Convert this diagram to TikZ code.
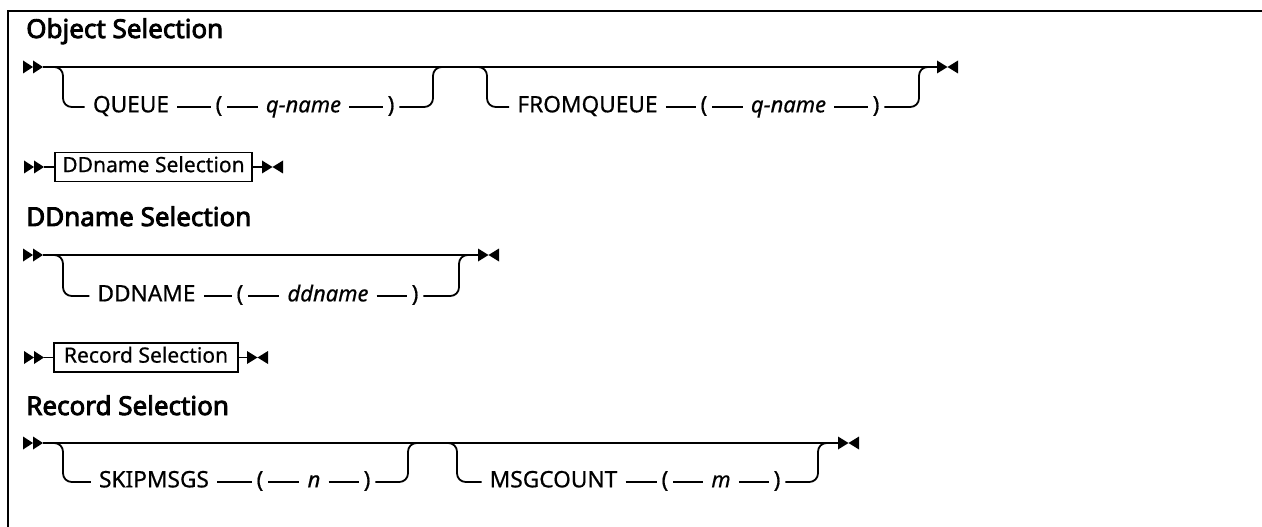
\documentclass[tikz,border=0pt]{standalone}
\usepackage{fontspec}
\setmainfont{Noto Sans}
\newfontfamily\tokfont{Noto Sans}[FakeBold=0.6]
\newfontfamily\ttlfont{Noto Sans}[FakeBold=3.2]
\begin{document}
\begin{tikzpicture}[x=0.75pt,y=-0.75pt,
  rail/.style={line width=1.35pt},
  frameline/.style={line width=1.6pt},
  tok/.style={inner xsep=6pt, inner ysep=0pt, text height=11.5pt, text depth=3.5pt, font=\tokfont\fontsize{17}{20}\selectfont},
  var/.style={tok, font=\tokfont\fontsize{16.5}{20}\selectfont\itshape},
  par/.style={tok, inner xsep=3.5pt},
  title/.style={anchor=base west, inner sep=0pt, font=\ttlfont\fontsize{19.5}{23}\selectfont},
  refbox/.style={draw, line width=1.1pt, inner xsep=4pt, inner ysep=0pt, minimum height=21.75pt, text height=11.2pt, text depth=3.5pt, font=\tokfont\fontsize{15.8}{19}\selectfont},
  startmark/.pic={\fill (-20,-6.5) -- (-10,0) -- (-20,6.5) -- cycle (-10,-6.5) -- (0,0) -- (-10,6.5) -- cycle;},
  endmark/.pic={\fill (0,-6.5) -- (10.5,0) -- (0,6.5) -- cycle (21,-6.5) -- (10.5,0) -- (21,6.5) -- cycle;}
]
\useasboundingbox (0,0) rectangle (1262,527);
% frame
\draw[frameline] (8,527) -- (8,11) -- (1262,11);

% ---------- Object Selection ----------
\node[title] (t1) at (26,38) {Object Selection};
\coordinate (s1) at (43,67);
\coordinate (e1) at (937,67);
\pic at (s1) {startmark};
\pic at (e1) {endmark};
\draw[rail] (s1) -- (e1);
% branch QUEUE
\node[tok] (queue) at (131,107) {QUEUE};
\node[par] (lp1) at (219,107) {(};
\node[var] (qn1) at (303.5,107) {q-name};
\node[par] (rp1) at (391,107) {)};
\coordinate (v1l) at (63,107);
\coordinate (v1r) at (433,67);
\coordinate (j1) at (445,67);
\draw[rail, rounded corners=6.5pt] (s1) -| (v1l) -- (queue);
\draw[rail] (queue) -- (lp1) (lp1) -- (qn1) (qn1) -- (rp1);
\draw[rail, rounded corners=6.5pt] (rp1) -| (v1r) -- (j1);
% branch FROMQUEUE
\coordinate (d2) at (470,67);
\coordinate (v2l) at (487,107);
\node[tok] (fromq) at (587.5,107) {FROMQUEUE};
\node[par] (lp2) at (704,107) {(};
\node[var] (qn2) at (788.5,107) {q-name};
\node[par] (rp2) at (876,107) {)};
\coordinate (v2r) at (919,67);
\coordinate (j2) at (930,67);
\draw[rail, rounded corners=6.5pt] (d2) -| (v2l) -- (fromq);
\draw[rail] (fromq) -- (lp2) (lp2) -- (qn2) (qn2) -- (rp2);
\draw[rail, rounded corners=6.5pt] (rp2) -| (v2r) -- (j2);

% ---------- DDname Selection reference ----------
\coordinate (s2) at (44,167);
\pic at (s2) {startmark};
\node[refbox, minimum width=147.75pt] (ddbox) at (153.5,167) {DDname Selection};
\coordinate (e2) at (262,167);
\pic at (e2) {endmark};
\draw[rail] (s2) -- (ddbox);
\draw[rail] (ddbox) -- (e2);

% ---------- DDname Selection ----------
\node[title] (t3) at (26,226) {DDname Selection};
\coordinate (s3) at (43,255);
\coordinate (e3) at (478,255);
\pic at (s3) {startmark};
\pic at (e3) {endmark};
\draw[rail] (s3) -- (e3);
\node[tok] (ddn) at (146.5,296) {DDNAME};
\node[par] (lp3) at (240,296) {(};
\node[var] (dvar) at (328,296) {ddname};
\node[par] (rp3) at (415,296) {)};
\coordinate (v3l) at (63,296);
\coordinate (v3r) at (459,255);
\draw[rail, rounded corners=6.5pt] (s3) -| (v3l) -- (ddn);
\draw[rail] (ddn) -- (lp3) (lp3) -- (dvar) (dvar) -- (rp3);
\draw[rail, rounded corners=6.5pt] (rp3) -| (v3r) -- (e3);

% ---------- Record Selection reference ----------
\coordinate (s4) at (44,357.5);
\pic at (s4) {startmark};
\node[refbox, minimum width=138pt] (rsbox) at (146,357.5) {Record Selection};
\coordinate (e4) at (247,357.5);
\pic at (e4) {endmark};
\draw[rail] (s4) -- (rsbox);
\draw[rail] (rsbox) -- (e4);

% ---------- Record Selection ----------
\node[title] (t5) at (26,415) {Record Selection};
\coordinate (s5) at (43,443);
\coordinate (e5) at (838,443);
\pic at (s5) {startmark};
\pic at (e5) {endmark};
\draw[rail] (s5) -- (e5);
% branch SKIPMSGS
\node[tok] (skip) at (154,482) {SKIPMSGS};
\node[par] (lp5) at (260,482) {(};
\node[var] (nvar) at (314,482) {n};
\node[par] (rp5) at (367,482) {)};
\coordinate (v5l) at (63,482);
\coordinate (v5r) at (408,443);
\coordinate (j5) at (420,443);
\draw[rail, rounded corners=6.5pt] (s5) -| (v5l) -- (skip);
\draw[rail] (skip) -- (lp5) (lp5) -- (nvar) (nvar) -- (rp5);
\draw[rail, rounded corners=6.5pt] (rp5) -| (v5r) -- (j5);
% branch MSGCOUNT
\coordinate (d6) at (440,443);
\coordinate (v6l) at (457,482);
\node[tok] (msgc) at (553.5,482) {MSGCOUNT};
\node[par] (lp6) at (665,482) {(};
\node[var] (mvar) at (721,482) {m};
\node[par] (rp6) at (777,482) {)};
\coordinate (v6r) at (818,443);
\draw[rail, rounded corners=6.5pt] (d6) -| (v6l) -- (msgc);
\draw[rail] (msgc) -- (lp6) (lp6) -- (mvar) (mvar) -- (rp6);
\draw[rail, rounded corners=6.5pt] (rp6) -| (v6r) -- (e5);
\end{tikzpicture}
\end{document}
